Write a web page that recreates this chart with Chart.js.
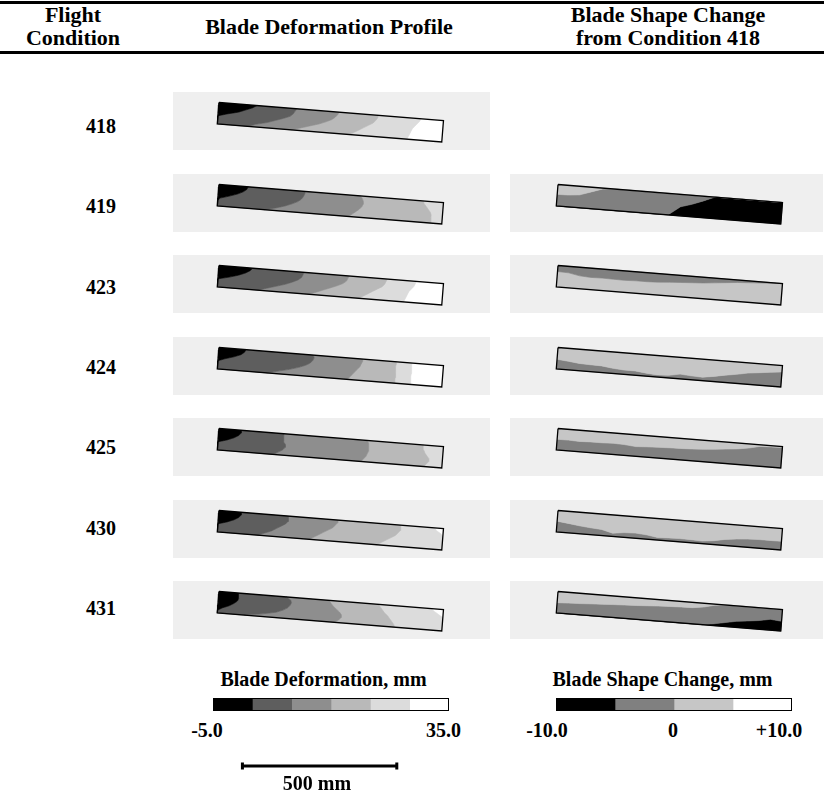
<!DOCTYPE html>
<html><head><meta charset="utf-8">
<script src="https://cdn.jsdelivr.net/npm/chart.js@4.4.0/dist/chart.umd.min.js"></script>
<style>
body{margin:0;background:#fff;width:824px;height:796px;position:relative;overflow:hidden;font-family:"Liberation Serif","Times New Roman",serif;font-weight:bold;color:#000}
.t{position:absolute;white-space:nowrap;transform:translate(-50%,-50%);font-size:20px;line-height:1}
.h{font-size:22px}
.rule{position:absolute;left:0;width:824px;height:3px;background:#000}
canvas{position:absolute;display:block}
</style></head><body>
<div class="rule" style="top:1px"></div>
<div class="rule" style="top:51px"></div>
<div class="t h" style="left:73px;top:15px">Flight</div>
<div class="t h" style="left:73px;top:38px">Condition</div>
<div class="t h" style="left:329px;top:27px">Blade Deformation Profile</div>
<div class="t h" style="left:668px;top:15px">Blade Shape Change</div>
<div class="t h" style="left:668px;top:38px">from Condition 418</div>
<div id="root"></div>
<script>
// ---------------- DATA ----------------
const CONDITIONS = ['418','419','423','424','425','430','431'];

// Blade deformation colour scale (mm)
const DEF_MIN = -5.0, DEF_MAX = 35.0;
const DEF_EDGES = [-5.0, 1.67, 8.33, 15.0, 21.67, 28.33, 35.0];
const DEF_TICKS = ['-5.0', '35.0'];
// Blade shape change colour scale (mm)
const SHAPE_MIN = -10.0, SHAPE_MAX = 10.0;
const SHAPE_EDGES = [-10.0, -5.0, 0.0, 5.0, 10.0];
const SHAPE_TICKS = ['-10.0', '0', '+10.0'];
const SCALE_BAR_MM = 500;

// Deformation contours: spanwise position (0 root .. 1 tip) of each level boundary,
// sampled at chord stations (0 = upper edge .. 1 = lower edge)
const CHORD_STATIONS = [0, 0.125, 0.25, 0.375, 0.5, 0.625, 0.75, 0.875, 1];
const DEF_418 = [
  [0.17, 0.15, 0.12, 0.09, 0.04, -0.01, -0.10, -0.20, -0.30],
  [0.347, 0.34, 0.333, 0.32, 0.29, 0.255, 0.22, 0.17, 0.14],
  [0.535, 0.53, 0.52, 0.505, 0.48, 0.45, 0.41, 0.37, 0.33],
  [0.71, 0.708, 0.70, 0.69, 0.67, 0.65, 0.63, 0.61, 0.59],
  [0.90, 0.895, 0.885, 0.875, 0.865, 0.86, 0.855, 0.85, 0.845]
];
const DEF_419 = [
  [0.13, 0.125, 0.11, 0.085, 0.05, 0.01, -0.05, -0.10, -0.20],
  [0.385, 0.383, 0.378, 0.37, 0.355, 0.33, 0.30, 0.26, 0.21],
  [0.63, 0.64, 0.645, 0.645, 0.64, 0.63, 0.615, 0.60, 0.585],
  [0.91, 0.915, 0.925, 0.935, 0.945, 0.95, 0.95, 0.95, 0.95],
  [1.2, 1.2, 1.2, 1.2, 1.2, 1.2, 1.2, 1.2, 1.2]
];
const DEF_423 = [
  [0.15, 0.14, 0.12, 0.09, 0.05, 0.0, -0.06, -0.15, -0.25],
  [0.38, 0.375, 0.37, 0.355, 0.33, 0.30, 0.26, 0.22, 0.18],
  [0.58, 0.575, 0.57, 0.555, 0.53, 0.50, 0.47, 0.44, 0.41],
  [0.75, 0.745, 0.74, 0.73, 0.71, 0.69, 0.67, 0.65, 0.63],
  [0.88, 0.875, 0.87, 0.86, 0.85, 0.845, 0.84, 0.835, 0.83]
];
const DEF_424 = [
  [0.12, 0.115, 0.10, 0.07, 0.03, -0.02, -0.08, -0.15, -0.25],
  [0.42, 0.425, 0.42, 0.41, 0.39, 0.36, 0.32, 0.27, 0.22],
  [0.64, 0.64, 0.635, 0.63, 0.62, 0.61, 0.60, 0.59, 0.58],
  [0.79, 0.79, 0.79, 0.79, 0.79, 0.79, 0.79, 0.79, 0.79],
  [0.86, 0.86, 0.86, 0.86, 0.86, 0.86, 0.86, 0.86, 0.86]
];
const DEF_425 = [
  [0.10, 0.10, 0.09, 0.07, 0.04, 0.0, -0.05, -0.12, -0.20],
  [0.29, 0.29, 0.29, 0.29, 0.30, 0.30, 0.29, 0.27, 0.25],
  [0.66, 0.665, 0.67, 0.67, 0.67, 0.665, 0.66, 0.65, 0.64],
  [0.91, 0.91, 0.915, 0.92, 0.93, 0.94, 0.94, 0.93, 0.92],
  [1.1, 1.1, 1.1, 1.1, 1.1, 1.1, 1.1, 1.1, 1.1]
];
const DEF_430 = [
  [0.10, 0.10, 0.09, 0.07, 0.04, 0.0, -0.05, -0.12, -0.20],
  [0.31, 0.31, 0.31, 0.30, 0.28, 0.26, 0.24, 0.21, 0.18],
  [0.53, 0.53, 0.52, 0.51, 0.49, 0.47, 0.45, 0.43, 0.41],
  [0.81, 0.81, 0.81, 0.80, 0.79, 0.77, 0.75, 0.73, 0.71],
  [0.96, 0.97, 0.99, 1.02, 1.06, 1.1, 1.1, 1.1, 1.1]
];
const DEF_431 = [
  [0.085, 0.09, 0.09, 0.085, 0.07, 0.05, 0.02, -0.02, -0.10],
  [0.30, 0.32, 0.325, 0.32, 0.31, 0.29, 0.26, 0.20, 0.12],
  [0.49, 0.50, 0.51, 0.525, 0.54, 0.55, 0.55, 0.54, 0.52],
  [0.71, 0.72, 0.73, 0.74, 0.755, 0.765, 0.775, 0.785, 0.79],
  [0.945, 0.96, 0.98, 1.0, 1.03, 1.1, 1.1, 1.1, 1.1]
];

// Shape change contours: chordwise position of each level boundary,
// sampled at span stations; levels listed from upper edge to lower edge
// (0: -10..-5, 1: -5..0, 2: 0..5, 3: 5..10)
const SPAN_STATIONS = [0,0.05,0.1,0.15,0.2,0.25,0.3,0.35,0.4,0.45,0.5,0.55,0.6,0.65,0.7,0.75,0.8,0.85,0.9,0.95,1];
const SHAPE_419_LEVELS = [2, 1, 0];
const SHAPE_419 = [
  [0.46,0.45,0.40,0.22,0.04,0,0,0,0,0,0,0,0,0,0,0,0,0,0,0,0],
  [1.05,1.05,1.05,1.05,1.05,1.05,1.05,1.05,1.05,1.05,0.98,0.58,0.42,0.22,-0.02,-0.05,-0.05,-0.05,-0.05,-0.05,-0.05]
];
const SHAPE_423_LEVELS = [1, 2];
const SHAPE_423 = [
  [0.28,0.30,0.40,0.43,0.42,0.43,0.44,0.42,0.42,0.40,0.36,0.33,0.30,0.27,0.22,0.17,0.12,0.09,0.06,0.03,0.0]
];
const SHAPE_424_LEVELS = [2, 1];
const SHAPE_424 = [
  [0.55,0.60,0.66,0.68,0.69,0.76,0.80,0.80,0.86,0.90,0.88,0.78,0.82,0.84,0.76,0.66,0.58,0.48,0.42,0.36,0.30]
];
const SHAPE_425_LEVELS = [2, 1];
const SHAPE_425 = [
  [0.50,0.50,0.52,0.50,0.50,0.48,0.50,0.55,0.52,0.50,0.48,0.47,0.45,0.42,0.38,0.33,0.28,0.20,0.08,0.06,0.05]
];
const SHAPE_430_LEVELS = [2, 1];
const SHAPE_430 = [
  [0.50,0.56,0.63,0.68,0.72,0.85,0.78,0.76,0.80,0.88,0.86,0.85,0.86,0.88,0.82,0.72,0.66,0.62,0.60,0.60,0.60]
];
const SHAPE_431_LEVELS = [2, 1, 0];
const SHAPE_431 = [
  [0.52,0.50,0.48,0.45,0.43,0.40,0.38,0.36,0.33,0.30,0.28,0.26,0.25,0.18,0.05,0,0,0,0,0,0],
  [1.05,1.05,1.05,1.05,1.05,1.05,1.05,1.05,1.05,1.05,1.05,1.05,1.05,1.05,0.92,0.82,0.72,0.66,0.60,0.50,0.55]
];

const DEF_ROWS = {'418':DEF_418,'419':DEF_419,'423':DEF_423,'424':DEF_424,'425':DEF_425,'430':DEF_430,'431':DEF_431};
const SHAPE_ROWS = {
  '419':{levels:SHAPE_419_LEVELS, bounds:SHAPE_419},
  '423':{levels:SHAPE_423_LEVELS, bounds:SHAPE_423},
  '424':{levels:SHAPE_424_LEVELS, bounds:SHAPE_424},
  '425':{levels:SHAPE_425_LEVELS, bounds:SHAPE_425},
  '430':{levels:SHAPE_430_LEVELS, bounds:SHAPE_430},
  '431':{levels:SHAPE_431_LEVELS, bounds:SHAPE_431}
};

// ---------------- STYLE / LAYOUT ----------------
const DEF_COLORS = ['#000000','#5e5e5e','#8e8e8e','#b9b9b9','#dcdcdc','#ffffff'];
const SHAPE_COLORS = ['#000000','#808080','#c6c6c6','#ffffff'];
const PANEL_BG = '#efefef';
const K = 500 / 173;                 // mm per pixel in the picture
const BLADE_SPAN_MM = 225.2 * K, BLADE_CHORD_MM = 21.5 * K;
const BLADE_ANGLE = Math.atan2(18, 224.5);
const ROW_TOP0 = 92, ROW_STEP = 81.5, PANEL_H = 58;
const LABEL_Y0 = 126, LABEL_STEP = 80.3;
const COLS = {
  def:   {left:173, width:317, bx:46, by:10.5},
  shape: {left:510, width:313, bx:48, by:10.5}
};

const root = document.getElementById('root');
function addText(txt, x, y, size){
  const d = document.createElement('div'); d.className='t'; d.textContent = txt;
  d.style.left = x+'px'; d.style.top = y+'px'; if (size) d.style.fontSize = size+'px';
  document.body.appendChild(d);
}
function addCanvas(x, y, w, h, bg){
  const c = document.createElement('canvas'); c.width = w; c.height = h;
  c.style.left = x+'px'; c.style.top = y+'px'; c.style.width = w+'px'; c.style.height = h+'px';
  if (bg) c.style.background = bg;
  root.appendChild(c); return c;
}
const clamp01 = v => Math.max(0, Math.min(1, v));
function bladePoint(col, s, c){
  const cs = Math.cos(BLADE_ANGLE), sn = Math.sin(BLADE_ANGLE);
  return { x: col.bx*K + s*BLADE_SPAN_MM*cs - c*BLADE_CHORD_MM*sn,
           y: col.by*K + s*BLADE_SPAN_MM*sn + c*BLADE_CHORD_MM*cs };
}
function regionDataset(pts, color){
  return {data: pts, showLine: true, fill: 'shape', backgroundColor: color, borderColor: color,
          borderWidth: 0.6, pointRadius: 0, order: 1};
}
function outlineDataset(col){
  const pts = [[0,0],[1,0],[1,1],[0,1],[0,0]].map(p => bladePoint(col, p[0], p[1]));
  return {data: pts, showLine: true, fill: false, borderColor: '#000', borderWidth: 1.3,
          pointRadius: 0, order: 0, borderJoinStyle: 'miter'};
}
function panelChart(canvas, w, h, datasets){
  return new Chart(canvas, {
    type: 'scatter', data: {datasets},
    options: {
      responsive: false, animation: false, events: [],
      layout: {padding: 0},
      plugins: {legend: {display: false}, tooltip: {enabled: false}},
      scales: {
        x: {type: 'linear', display: false, min: 0, max: w*K},
        y: {type: 'linear', display: false, reverse: true, min: 0, max: h*K}
      },
      elements: {line: {tension: 0}, point: {radius: 0}}
    }
  });
}

CONDITIONS.forEach((cond, r) => {
  const top = Math.round(ROW_TOP0 + ROW_STEP*r);
  addText(cond, 101, Math.round(LABEL_Y0 + LABEL_STEP*r));
  // deformation profile
  {
    const col = COLS.def, bounds = DEF_ROWS[cond], n = CHORD_STATIONS.length;
    const ds = [];
    for (let k = 0; k <= bounds.length; k++){
      const L = k === 0 ? CHORD_STATIONS.map(() => 0) : bounds[k-1];
      const R = k === bounds.length ? CHORD_STATIONS.map(() => 1) : bounds[k];
      const pts = [];
      for (let i = 0; i < n; i++) pts.push(bladePoint(col, clamp01(L[i]), CHORD_STATIONS[i]));
      for (let i = n-1; i >= 0; i--) pts.push(bladePoint(col, Math.max(clamp01(R[i]), clamp01(L[i])), CHORD_STATIONS[i]));
      ds.push(regionDataset(pts, DEF_COLORS[k]));
    }
    ds.push(outlineDataset(col));
    const cv = addCanvas(col.left, top, col.width, PANEL_H, PANEL_BG);
    panelChart(cv, col.width, PANEL_H, ds);
  }
  // shape change
  if (SHAPE_ROWS[cond]){
    const col = COLS.shape, row = SHAPE_ROWS[cond], n = SPAN_STATIONS.length;
    const ds = [];
    row.levels.forEach((lev, k) => {
      const T = k === 0 ? SPAN_STATIONS.map(() => 0) : row.bounds[k-1];
      const B = k === row.levels.length-1 ? SPAN_STATIONS.map(() => 1) : row.bounds[k];
      const pts = [];
      for (let i = 0; i < n; i++) pts.push(bladePoint(col, SPAN_STATIONS[i], clamp01(T[i])));
      for (let i = n-1; i >= 0; i--) pts.push(bladePoint(col, SPAN_STATIONS[i], Math.max(clamp01(B[i]), clamp01(T[i]))));
      ds.push(regionDataset(pts, SHAPE_COLORS[lev]));
    });
    ds.push(outlineDataset(col));
    const cv = addCanvas(col.left, top, col.width, PANEL_H, PANEL_BG);
    panelChart(cv, col.width, PANEL_H, ds);
  }
});

// ---------------- COLOUR BARS ----------------
function colorBar(x, y, w, h, edges, colors, min, max){
  const cv = addCanvas(x, y, w, h, null);
  const ds = colors.map((c, i) => ({data: [[edges[i], edges[i+1]]], backgroundColor: c, borderWidth: 0,
        grouped: false, barPercentage: 1, categoryPercentage: 1, order: 1}));
  ds.push({data: [[min, max]], backgroundColor: 'rgba(0,0,0,0)', borderColor: '#000', borderWidth: 1,
        borderSkipped: false, grouped: false, barPercentage: 1, categoryPercentage: 1, order: 0, inflateAmount: 0});
  new Chart(cv, {type: 'bar', data: {labels: [''], datasets: ds},
    options: {indexAxis: 'y', responsive: false, animation: false, events: [], layout: {padding: 0},
      plugins: {legend: {display: false}, tooltip: {enabled: false}},
      scales: {x: {display: false, min, max}, y: {display: false}}}});
}
colorBar(213, 698, 236, 13, DEF_EDGES, DEF_COLORS, DEF_MIN, DEF_MAX);
colorBar(556, 698, 236, 13, SHAPE_EDGES, SHAPE_COLORS, SHAPE_MIN, SHAPE_MAX);
addText('Blade Deformation, mm', 323.5, 679);
addText('Blade Shape Change, mm', 662.5, 679);
addText(DEF_TICKS[0], 207, 730);
addText(DEF_TICKS[1], 443.5, 730);
addText(SHAPE_TICKS[0], 547, 730);
addText(SHAPE_TICKS[1], 673, 730);
addText(SHAPE_TICKS[2], 779, 730);

// ---------------- SCALE BAR ----------------
{
  const cv = addCanvas(223, 752, 195, 28, null);
  new Chart(cv, {type: 'scatter',
    data: {datasets: [
      {data: [{x: 0, y: 0}, {x: SCALE_BAR_MM, y: 0}], showLine: true, borderColor: '#000', borderWidth: 3, pointRadius: 0},
      {data: [{x: 0, y: 0}, {x: SCALE_BAR_MM, y: 0}], showLine: false, pointStyle: 'line', rotation: 90,
       pointRadius: 7.5, borderWidth: 3, borderColor: '#000', backgroundColor: '#000'}
    ]},
    options: {responsive: false, animation: false, events: [], layout: {padding: 0},
      plugins: {legend: {display: false}, tooltip: {enabled: false}},
      scales: {x: {type: 'linear', display: false, min: -10*K, max: 185*K},
               y: {type: 'linear', display: false, min: -1, max: 1}}}});
}
addText(SCALE_BAR_MM + ' mm', 317, 783);
</script>
</body></html>
